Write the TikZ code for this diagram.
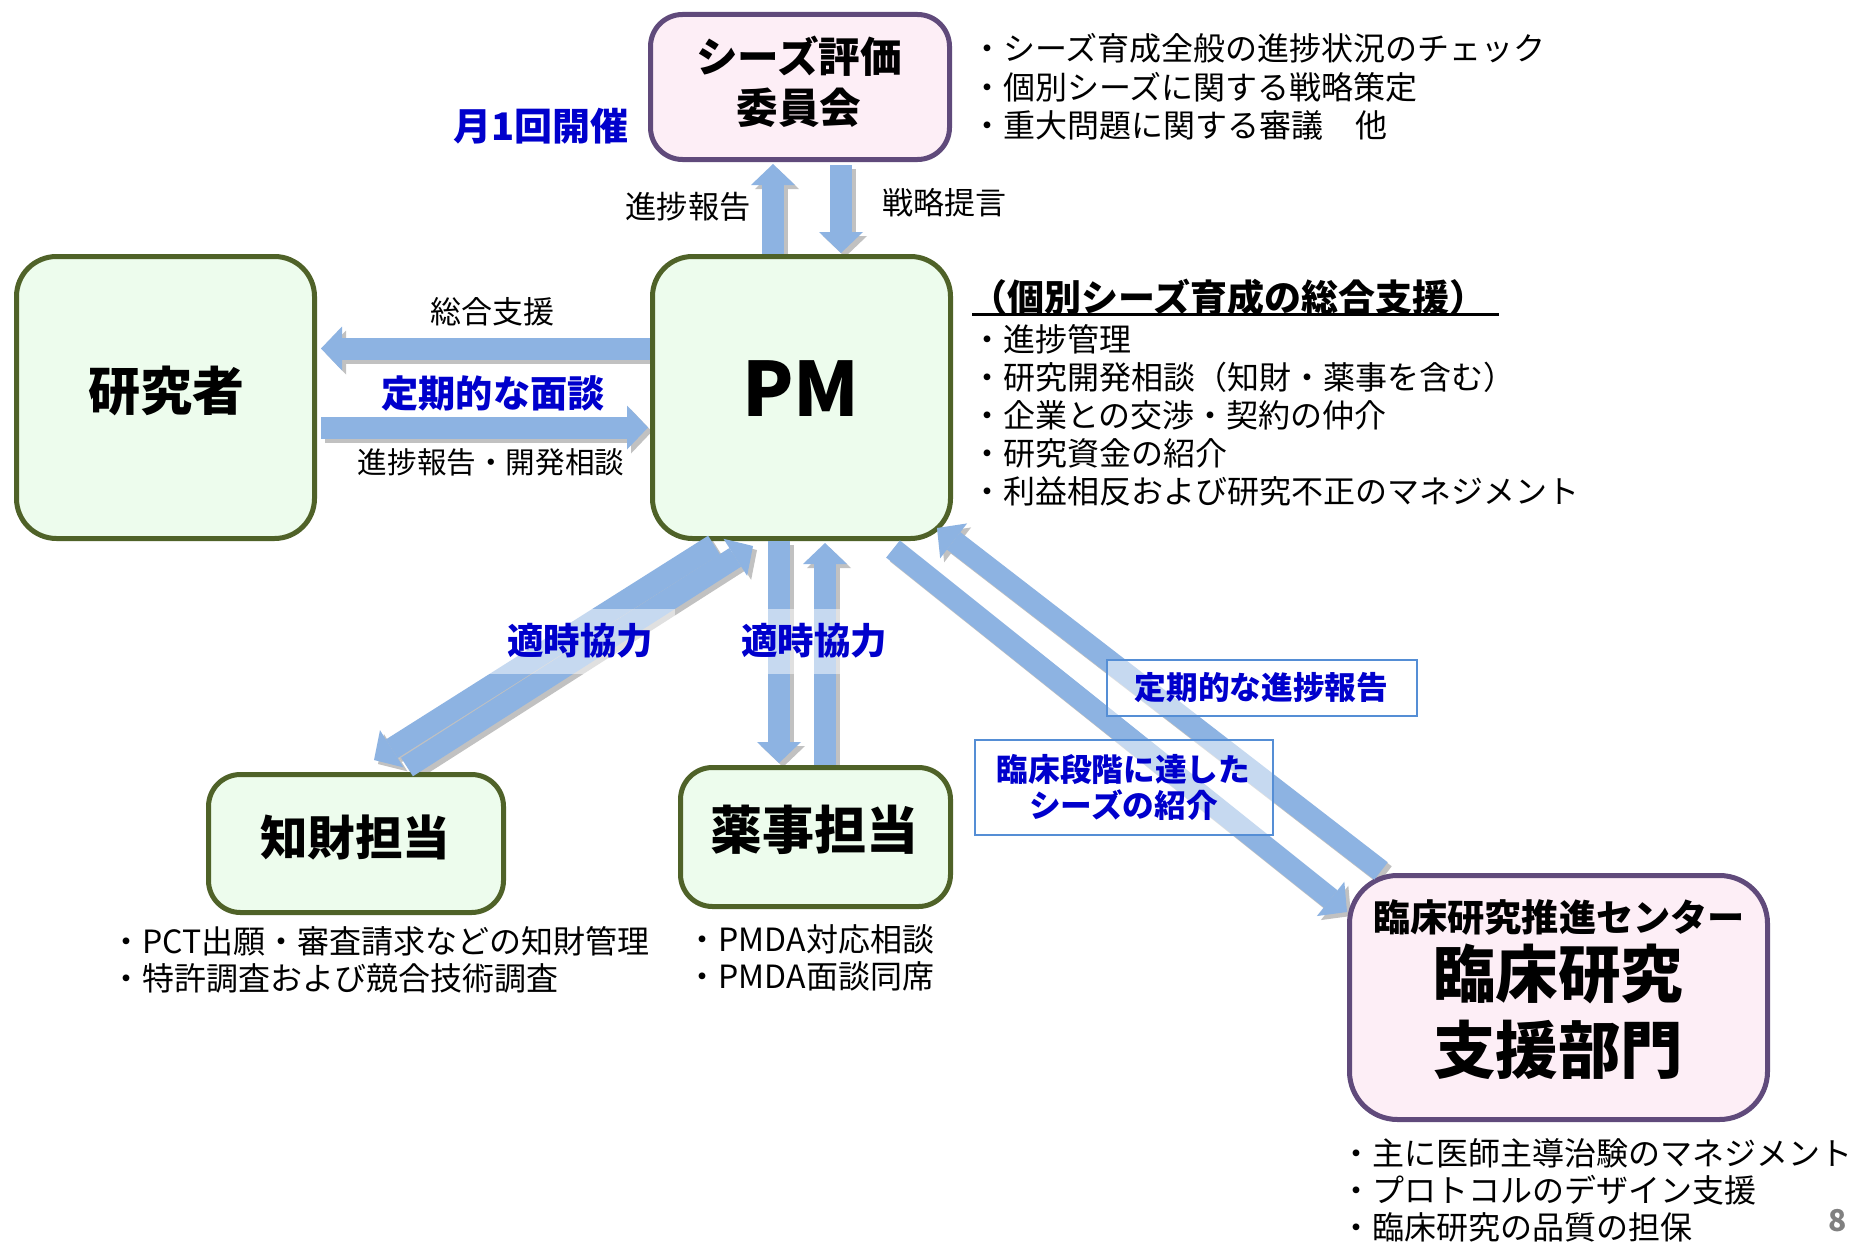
\documentclass[tikz,border=0pt]{standalone}
\usepackage{fontspec}
\setmainfont{Noto Sans CJK JP}
\usetikzlibrary{arrows.meta,calc}
\pgfdeclarelayer{bg}
\pgfsetlayers{bg,main}
\definecolor{arrowblue}{HTML}{8DB3E2}
\definecolor{boxgreen}{HTML}{4F6228}
\definecolor{fillgreen}{HTML}{EDFCED}
\definecolor{boxpurple}{HTML}{604A7B}
\definecolor{fillpink}{HTML}{FDEEF6}
\definecolor{bluetext}{HTML}{0000CC}
\definecolor{labelblue}{HTML}{558ED5}
\definecolor{shadowgray}{HTML}{A6A6A6}
\newcommand{\myfs}[1]{\fontsize{#1}{#1}\selectfont}
\newcommand{\blockarrow}[2]{%
  \begin{pgfonlayer}{bg}
    \draw[shdarrow] ($(#1)+(4,4)$) -- ($(#2)+(4,4)$);
  \end{pgfonlayer}
  \draw[blkarrow] (#1) -- (#2);
}
\begin{document}
\begin{tikzpicture}[x=1pt,y=-1pt,
  gbox/.style={draw=boxgreen,fill=fillgreen,line width=5pt,inner sep=0pt,rounded corners=40pt},
  pbox/.style={draw=boxpurple,fill=fillpink,line width=5pt,inner sep=0pt,rounded corners=36pt},
  plain/.style={inner sep=0pt,font=\myfs{31.5}},
  item/.style={inner sep=0pt,anchor=west,font=\myfs{32}},
  title/.style={inner sep=0pt,font=\bfseries\myfs{#1}},
  bluelab/.style={inner sep=0pt,text=bluetext,font=\bfseries\myfs{#1}},
  veil/.style={fill=white,fill opacity=0.5,text opacity=1,text=bluetext,font=\bfseries\myfs{36.5},inner sep=0pt},
  framed/.style={draw=labelblue,line width=2pt,fill=white,fill opacity=0.5,text opacity=1,text=bluetext,font=\bfseries\myfs{31.7},inner sep=0pt,align=center},
  blkarrow/.style={draw=arrowblue,line width=22pt,-{Triangle[width=44pt,length=21pt,line width=0pt]}},
  shdarrow/.style={draw=shadowgray!70,line width=22pt,-{Triangle[width=44pt,length=21pt,line width=0pt]}},
]
\begin{pgfonlayer}{bg}
  \fill[white] (0,0) rectangle (1854,1244);
\end{pgfonlayer}
\useasboundingbox (0,0) rectangle (1854,1244);

% boxes
\node[pbox,minimum width=299pt,minimum height=145pt,rounded corners=32pt] (comm) at (800,87) {};
\node[gbox,minimum width=298pt,minimum height=282pt] (res) at (165.5,397.5) {};
\node[gbox,minimum width=298pt,minimum height=282pt] (pm) at (801.5,397.5) {};
\node[gbox,minimum width=295pt,minimum height=138pt,rounded corners=32pt] (ip) at (356,843.5) {};
\node[gbox,minimum width=270pt,minimum height=139pt,rounded corners=32pt] (reg) at (815.5,837) {};
\node[pbox,minimum width=418pt,minimum height=244pt,rounded corners=48pt] (crc) at (1558.5,997.5) {};

% arrow end points
\coordinate (a1s) at ($(pm.north)+(-28.5,0)$);
\coordinate (a1e) at ($(comm.south)+(-27,2)$);
\coordinate (a2s) at ($(comm.south)+(41,3)$);
\coordinate (a2e) at ($(pm.north)+(39.5,-1)$);
\coordinate (a3s) at ($(pm.west)+(0,-49)$);
\coordinate (a3e) at ($(res.east)+(4,-49)$);
\coordinate (a4s) at ($(res.east)+(4,30)$);
\coordinate (a4e) at ($(pm.west)+(-2,30)$);
\coordinate (a5s) at ($(pm.south)+(-87.5,4)$);
\coordinate (a5e) at ($(ip.north)+(18,-12)$);
\coordinate (a6s) at ($(ip.north)+(51,-5)$);
\coordinate (a6e) at ($(pm.south)+(-48.5,5)$);
\coordinate (a7s) at ($(pm.south)+(-22.5,0)$);
\coordinate (a7e) at ($(reg.north)+(-36.5,-2)$);
\coordinate (a8s) at ($(reg.north)+(9.5,0)$);
\coordinate (a8e) at ($(pm.south)+(23.5,2)$);
\coordinate (a9s) at ($(pm.south)+(91.5,8)$);
\coordinate (a9e) at ($(crc.north west)+(0,39)$);
\coordinate (a10s) at ($(crc.north west)+(34,-2)$);
\coordinate (a10e) at ($(pm.south)+(135.5,-13)$);

\blockarrow{a1s}{a1e}
\blockarrow{a2s}{a2e}
\blockarrow{a3s}{a3e}
\blockarrow{a4s}{a4e}
\blockarrow{a5s}{a5e}
\blockarrow{a6s}{a6e}
\blockarrow{a7s}{a7e}
\blockarrow{a8s}{a8e}
\blockarrow{a9s}{a9e}
\blockarrow{a10s}{a10e}

% box titles
\node[title=41.6] (commt1) at (799,56) {シーズ評価};
\node[title=41.6] (commt2) at (799,108) {委員会};
\node[title=52] (rest) at (166,391) {研究者};
\node[title=75] (pmt) at (801,389) {PM};
\node[title=47.5] (ipt) at (355,837) {知財担当};
\node[title=52] (regt) at (814,830) {薬事担当};
\node[title=37.2] (crct1) at (1559,917) {臨床研究推進センター};
\node[title=62.5] (crct2) at (1558,974) {臨床研究};
\node[title=62.5] (crct3) at (1558,1050) {支援部門};

% connector labels
\node[bluelab=38,anchor=east] (monthly) at (629,126) {月1回開催};
\node[plain,font=\myfs{31.3}] (lprog) at (688,207) {進捗報告};
\node[plain,font=\myfs{31}] (lstrat) at (944,203) {戦略提言};
\node[plain,font=\myfs{31}] (lsup) at (492,312) {総合支援};
\node[bluelab=37.2] (lmeet) at (493,393) {定期的な面談};
\node[plain,font=\myfs{29.6}] (lrep) at (491,462) {進捗報告・開発相談};
\node[veil,minimum width=190pt,minimum height=65pt] (lcoop1) at (580,641) {適時協力};
\node[veil,minimum width=188pt,minimum height=65pt] (lcoop2) at (814,641) {適時協力};
\node[framed,minimum width=310pt,minimum height=56pt] (lreg) at (1261.5,688) {定期的な進捗報告};
\node[framed,minimum width=298pt,minimum height=95pt] (lintro) at (1123.5,787.5)
  {臨床段階に達した\\[5pt]シーズの紹介};

% committee list
\node[item] (c1) at (971,48) {・シーズ育成全般の進捗状況のチェック};
\node[item] (c2) at (971,87) {・個別シーズに関する戦略策定};
\node[item] (c3) at (971,125) {・重大問題に関する審議　他};

% PM list
\node[inner sep=0pt,anchor=west,font=\bfseries\myfs{37}] (hdr) at (970,297) {（個別シーズ育成の総合支援）};
\draw[line width=3pt] ($(hdr.west)+(2,17)$) -- ($(hdr.east)+(12,17)$);
\node[item] (p1) at (971,339) {・進捗管理};
\node[item] (p2) at (971,377) {・研究開発相談（知財・薬事を含む）};
\node[item] (p3) at (971,415) {・企業との交渉・契約の仲介};
\node[item] (p4) at (971,453) {・研究資金の紹介};
\node[item] (p5) at (971,491) {・利益相反および研究不正のマネジメント};

% IP list
\node[item] (i1) at (110.5,941) {・PCT出願・審査請求などの知財管理};
\node[item] (i2) at (110.5,978) {・特許調査および競合技術調査};

% regulatory list
\node[item] (r1) at (686.5,939) {・PMDA対応相談};
\node[item] (r2) at (686.5,976) {・PMDA面談同席};

% clinical list
\node[item] (k1) at (1340.5,1153) {・主に医師主導治験のマネジメント};
\node[item] (k2) at (1340.5,1190) {・プロトコルのデザイン支援};
\node[item] (k3) at (1340.5,1227) {・臨床研究の品質の担保};

% page number
\node[inner sep=0pt,text=gray,font=\bfseries\myfs{30}] (pg) at (1838,1221) {8};
\end{tikzpicture}
\end{document}
